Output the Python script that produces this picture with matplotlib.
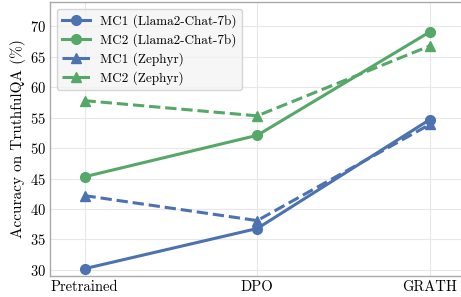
import matplotlib
matplotlib.use("Agg")
import matplotlib.pyplot as plt

# data
stages = ["Pretrained", "DPO", "GRATH"]
mc1_llama = [30.2, 36.8, 54.7]
mc2_llama = [45.3, 52.1, 69.1]
mc1_zephyr = [42.2, 38.1, 53.9]
mc2_zephyr = [57.8, 55.3, 66.8]

blue = "#4C72B0"
green = "#55A868"

plt.rcParams["font.family"] = "serif"
plt.rcParams["font.serif"] = ["cmr10"]
plt.rcParams["mathtext.fontset"] = "cm"
plt.rcParams["axes.formatter.use_mathtext"] = True

fig = plt.figure(figsize=(4.61, 2.97), dpi=100)
ax = fig.add_axes([0.1085, 0.0707, 0.899, 0.9226])

x = range(len(stages))
ax.plot(x, mc1_llama, color=blue, lw=2.2, marker="o", ms=7, label="MC1 (Llama2-Chat-7b)")
ax.plot(x, mc2_llama, color=green, lw=2.2, marker="o", ms=7, label="MC2 (Llama2-Chat-7b)")
ax.plot(x, mc1_zephyr, color=blue, lw=2.2, ls="--", marker="^", ms=7, label="MC1 (Zephyr)")
ax.plot(x, mc2_zephyr, color=green, lw=2.2, ls="--", marker="^", ms=7, label="MC2 (Zephyr)")

ax.set_xticks(list(x))
ax.set_xticklabels(stages)
ax.set_xlim(-0.2, 2.2)
ax.set_ylim(29, 74)
ax.set_yticks([30, 35, 40, 45, 50, 55, 60, 65, 70])
ax.set_ylabel("Accuracy on TruthfulQA (%)", fontsize=11, labelpad=3)
ax.tick_params(labelsize=10.5, length=0, pad=3)
ax.grid(True, color="#e8e8e8", lw=0.8)
ax.set_axisbelow(True)
for s in ax.spines.values():
    s.set_color("#aaaaaa")
    s.set_linewidth(1.0)

leg = ax.legend(loc="upper left", fontsize=9.5, frameon=True, fancybox=True,
                handlelength=2.1, borderpad=0.4, labelspacing=0.4)
leg.get_frame().set_facecolor("#f4f4f4")
leg.get_frame().set_edgecolor("#cccccc")

fig.savefig("out.png", dpi=100)
